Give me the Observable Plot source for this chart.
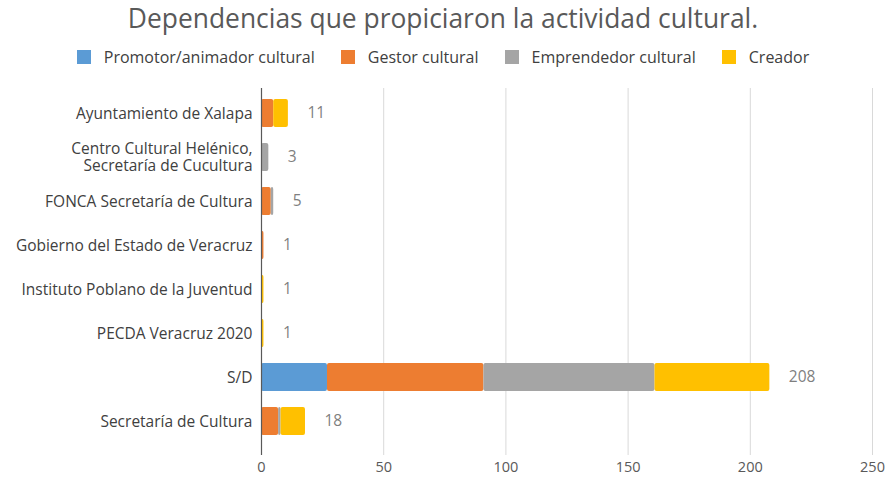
<!DOCTYPE html>
<html>
<head>
<meta charset="utf-8">
<script src="https://cdn.jsdelivr.net/npm/d3@7"></script>
<script src="https://cdn.jsdelivr.net/npm/@observablehq/plot@0.6"></script>
<style>
  body { margin: 0; background: #fff; font-family: "Open Sans", "Noto Sans", sans-serif; }
  #wrap { width: 886px; height: 477px; position: relative; overflow: hidden; }
  #title { position: absolute; top: 0px; left: 0; width: 886px; text-align: center; font-size: 26.4px; color: #595959; }
  #legend { position: absolute; top: 46px; left: 0; width: 886px; display: flex; justify-content: center; gap: 26px; font-size: 16px; color: #404040; }
  .item { display: flex; align-items: center; }
  .sw { width: 14px; height: 14px; margin-right: 13px; }
  #chart { position: absolute; top: 0; left: 0; }
</style>
</head>
<body>
<div id="wrap">
  <div id="title">Dependencias que propiciaron la actividad cultural.</div>
  <div id="legend"></div>
  <div id="chart"></div>
</div>
<script>
const categories = [
  "Ayuntamiento de Xalapa",
  "Centro Cultural Helénico,\nSecretaría de Cucultura",
  "FONCA Secretaría de Cultura",
  "Gobierno del Estado de Veracruz",
  "Instituto Poblano de la Juventud",
  "PECDA Veracruz 2020",
  "S/D",
  "Secretaría de Cultura"
];
const seriesNames = ["Promotor/animador cultural", "Gestor cultural", "Emprendedor cultural", "Creador"];
const seriesColors = ["#5b9bd5", "#ed7d31", "#a5a5a5", "#ffc000"];
const promotor     = [0, 0, 0, 0, 0, 0, 27, 0];
const gestor       = [5, 0, 4, 1, 0, 0, 64, 7];
const emprendedor  = [0, 3, 1, 0, 0, 0, 70, 1];
const creador      = [6, 0, 0, 0, 1, 1, 47, 10];
const totals       = [11, 3, 5, 1, 1, 1, 208, 18];
const xTicks = [0, 50, 100, 150, 200, 250];

const seriesValues = [promotor, gestor, emprendedor, creador];
const rows = [];
seriesNames.forEach((s, si) => {
  categories.forEach((c, ci) => {
    const v = seriesValues[si][ci];
    if (v > 0) rows.push({ category: c, series: s, value: v });
  });
});
const totalRows = categories.map((c, i) => ({ category: c, total: totals[i] }));

// Legend
const legend = document.getElementById("legend");
seriesNames.forEach((s, i) => {
  const it = document.createElement("div");
  it.className = "item";
  const sw = document.createElement("div");
  sw.className = "sw";
  sw.style.background = seriesColors[i];
  const t = document.createElement("span");
  t.textContent = s;
  it.appendChild(sw); it.appendChild(t);
  legend.appendChild(it);
});

const chart = Plot.plot({
  width: 886,
  height: 477,
  marginTop: 88,
  marginBottom: 22,
  marginLeft: 261,
  marginRight: 14,
  style: { fontFamily: "'Open Sans', 'Noto Sans', sans-serif", background: "transparent" },
  x: { domain: [0, 250], ticks: xTicks, tickSize: 0, tickPadding: 6, label: null },
  y: { domain: categories, range: [98, 436], paddingInner: 0.368, paddingOuter: 0, tickSize: 0, tickPadding: 9, label: null },
  color: { domain: seriesNames, range: seriesColors },
  marks: [
    Plot.ruleX(xTicks.filter(d => d > 0), { stroke: "#d9d9d9", strokeWidth: 1 }),
    Plot.barX(rows, { y: "category", x: "value", fill: "series", rx: 2 }),
    Plot.ruleX([0], { stroke: "#595959", strokeWidth: 1.2 }),
    Plot.text(totalRows, { y: "category", x: "total", text: d => String(d.total), dx: 19, textAnchor: "start", fill: "#7f7f7f", fontSize: 15.5 }),
    Plot.axisX({ ticks: xTicks, tickSize: 0, tickPadding: 6, fontSize: 14.5, color: "#595959", label: null }),
    Plot.axisY({ tickSize: 0, tickPadding: 9, fontSize: 15.5, color: "#404040", label: null, lineHeight: 1.1 })
  ]
});
document.getElementById("chart").appendChild(chart);
</script>
</body>
</html>
